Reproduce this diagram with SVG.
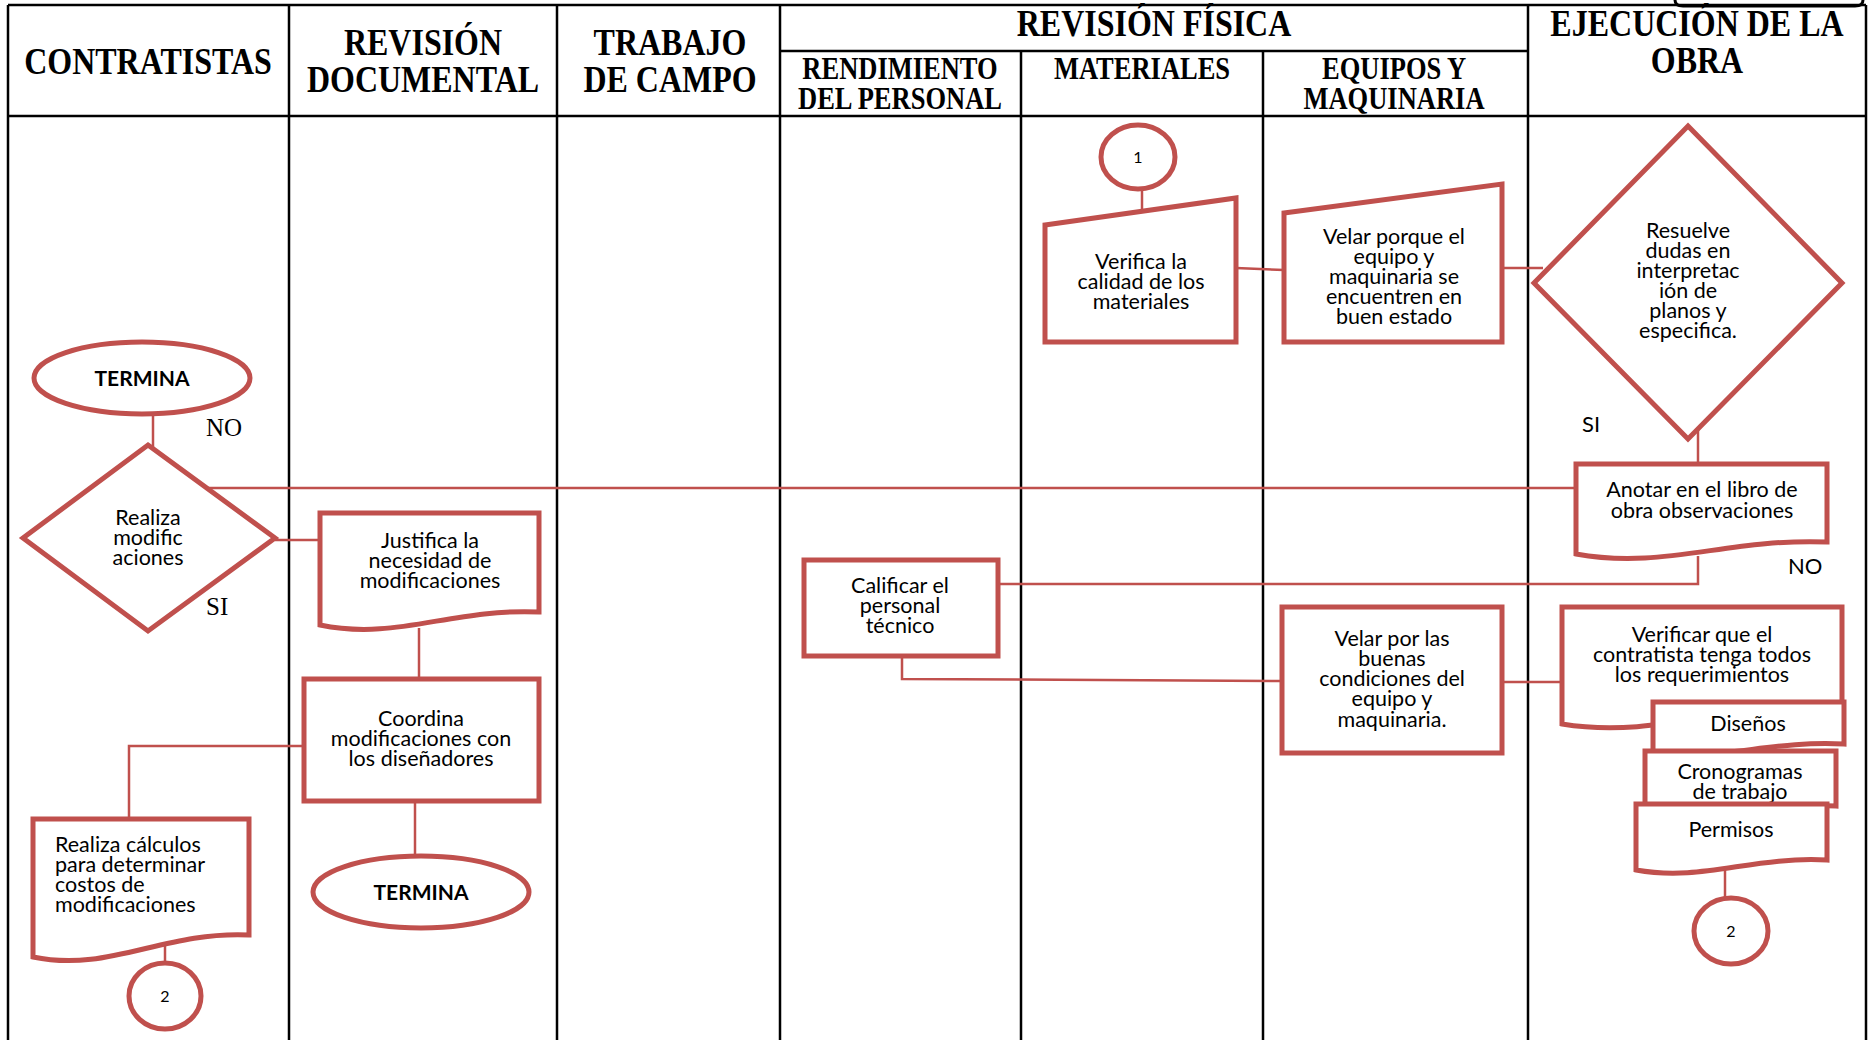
<svg xmlns="http://www.w3.org/2000/svg" width="1875" height="1040" viewBox="0 0 1875 1040">
<style>
.lane{stroke:#000;stroke-width:2.5;fill:none}
.hd{font-family:"Liberation Serif","Times New Roman",serif;font-weight:bold;font-size:32px;text-anchor:middle;fill:#000}
.sh{font-family:"Liberation Serif","Times New Roman",serif;font-weight:bold;font-size:26.5px;text-anchor:middle;fill:#000}
.nd{fill:#fff;stroke:#C0504D;stroke-width:5;stroke-linejoin:miter}
.cn{stroke:#C0504D;stroke-width:2.5;fill:none}
.t{font-family:Lato,"Liberation Sans",sans-serif;font-size:21.5px;text-anchor:middle;fill:#000}
.tl{font-family:Lato,"Liberation Sans",sans-serif;font-size:21.5px;fill:#000}
.tb{font-family:Lato,"Liberation Sans",sans-serif;font-size:21px;font-weight:bold;text-anchor:middle;fill:#000}
.num{font-family:Lato,"Liberation Sans",sans-serif;font-size:16px;text-anchor:middle;fill:#000}
.lbs{font-family:"Liberation Serif","Times New Roman",serif;font-size:25px;fill:#000}
.lbn{font-family:Lato,"Liberation Sans",sans-serif;font-size:22px;fill:#000}
</style>
<rect x="0" y="0" width="1875" height="1040" fill="#fff"/>
<g id="table">
<path d="M1675,-10 V0 Q1675,6 1683,6 H1855 Q1863,6 1863,0 V-10" stroke="#000" stroke-width="3" fill="none"/>
<line class="lane" x1="8" y1="5" x2="1866" y2="5"/>
<line class="lane" x1="780" y1="51" x2="1528" y2="51"/>
<line class="lane" x1="8" y1="116" x2="1866" y2="116"/>
<line class="lane" x1="8" y1="5" x2="8" y2="1040"/>
<line class="lane" x1="289" y1="5" x2="289" y2="1040"/>
<line class="lane" x1="557" y1="5" x2="557" y2="1040"/>
<line class="lane" x1="780" y1="5" x2="780" y2="1040"/>
<line class="lane" x1="1021" y1="51" x2="1021" y2="1040"/>
<line class="lane" x1="1263" y1="51" x2="1263" y2="1040"/>
<line class="lane" x1="1528" y1="5" x2="1528" y2="1040"/>
<line class="lane" x1="1866" y1="5" x2="1866" y2="1040"/>
<g transform="translate(148,74) scale(1,1.18)"><text class="hd" x="0" y="0">CONTRATISTAS</text></g>
<g transform="translate(423,55) scale(1,1.18)"><text class="hd" x="0" y="0">REVISIÓN</text></g>
<g transform="translate(423,92) scale(1,1.18)"><text class="hd" x="0" y="0">DOCUMENTAL</text></g>
<g transform="translate(670,55) scale(1,1.18)"><text class="hd" x="0" y="0">TRABAJO</text></g>
<g transform="translate(670,92) scale(1,1.18)"><text class="hd" x="0" y="0">DE CAMPO</text></g>
<g transform="translate(1154,36) scale(1,1.18)"><text class="hd" x="0" y="0">REVISIÓN FÍSICA</text></g>
<g transform="translate(1697,36) scale(1,1.18)"><text class="hd" x="0" y="0">EJECUCIÓN DE LA</text></g>
<g transform="translate(1697,73) scale(1,1.18)"><text class="hd" x="0" y="0">OBRA</text></g>
<g transform="translate(900,79) scale(1,1.2)"><text class="sh" x="0" y="0">RENDIMIENTO</text></g>
<g transform="translate(900,109) scale(1,1.2)"><text class="sh" x="0" y="0">DEL PERSONAL</text></g>
<g transform="translate(1142,79) scale(1,1.2)"><text class="sh" x="0" y="0">MATERIALES</text></g>
<g transform="translate(1394,79) scale(1,1.2)"><text class="sh" x="0" y="0">EQUIPOS Y</text></g>
<g transform="translate(1394,109) scale(1,1.2)"><text class="sh" x="0" y="0">MAQUINARIA</text></g>
</g>
<g id="connectors">
<line class="cn" x1="153" y1="414" x2="153" y2="447"/>
<line class="cn" x1="207" y1="488" x2="1578" y2="488"/>
<line class="cn" x1="275" y1="540" x2="320" y2="540"/>
<line class="cn" x1="419" y1="628" x2="419" y2="679"/>
<polyline class="cn" points="304,746 129,746 129,819"/>
<line class="cn" x1="415" y1="801" x2="415" y2="856"/>
<line class="cn" x1="165" y1="940" x2="165" y2="964"/>
<line class="cn" x1="1142" y1="189" x2="1142" y2="212"/>
<line class="cn" x1="1236" y1="268" x2="1284" y2="270"/>
<line class="cn" x1="1502" y1="268" x2="1543" y2="268"/>
<line class="cn" x1="1698" y1="425" x2="1698" y2="464"/>
<polyline class="cn" points="1698,556 1698,584 998,584"/>
<polyline class="cn" points="902,656 902,679 1282,681"/>
<line class="cn" x1="1502" y1="682" x2="1562" y2="682"/>
<line class="cn" x1="1725" y1="868" x2="1725" y2="899"/>
</g>
<g id="termina1">
<ellipse class="nd" cx="142" cy="378" rx="108" ry="36"/>
<text class="tb" x="142" y="386">TERMINA</text>
</g>
<g id="realiza-modificaciones">
<polygon class="nd" points="148,445 275,538 148,631 23,538"/>
<text class="t" x="148" y="525">Realiza<tspan x="148" dy="20">modific</tspan><tspan x="148" dy="20">aciones</tspan></text>
</g>
<g id="label-no1"><text class="lbs" x="206" y="436">NO</text></g>
<g id="label-si1"><text class="lbs" x="206" y="615">SI</text></g>
<g id="justifica">
<path class="nd" d="M320,513 H539 V612 C451,608 397,641 320,625 Z"/>
<text class="t" x="430" y="548">Justifica la<tspan x="430" dy="20">necesidad de</tspan><tspan x="430" dy="20">modificaciones</tspan></text>
</g>
<g id="coordina">
<rect class="nd" x="304" y="679" width="235" height="122"/>
<text class="t" x="421" y="726">Coordina<tspan x="421" dy="20">modificaciones con</tspan><tspan x="421" dy="20">los diseñadores</tspan></text>
</g>
<g id="termina2">
<ellipse class="nd" cx="421" cy="892" rx="108" ry="36"/>
<text class="tb" x="421" y="900">TERMINA</text>
</g>
<g id="realiza-calculos">
<path class="nd" d="M33,819 H249 V935 C163,931 109,973 33,957 Z"/>
<text class="tl" x="55" y="852">Realiza cálculos<tspan x="55" dy="20">para determinar</tspan><tspan x="55" dy="20">costos de</tspan><tspan x="55" dy="20">modificaciones</tspan></text>
</g>
<g id="conector2-izq">
<ellipse class="nd" cx="165" cy="996" rx="36" ry="33"/>
<text class="num" x="165" y="1002">2</text>
</g>
<g id="conector1">
<ellipse class="nd" cx="1138" cy="157" rx="37" ry="32"/>
<text class="num" x="1138" y="163">1</text>
</g>
<g id="verifica-materiales">
<polygon class="nd" points="1045,225 1236,198 1236,342 1045,342"/>
<text class="t" x="1141" y="269">Verifica la<tspan x="1141" dy="20">calidad de los</tspan><tspan x="1141" dy="20">materiales</tspan></text>
</g>
<g id="velar-equipo">
<polygon class="nd" points="1284,213 1502,184 1502,342 1284,342"/>
<text class="t" x="1394" y="244">Velar porque el<tspan x="1394" dy="20">equipo y</tspan><tspan x="1394" dy="20">maquinaria se</tspan><tspan x="1394" dy="20">encuentren en</tspan><tspan x="1394" dy="20">buen estado</tspan></text>
</g>
<g id="resuelve">
<polygon class="nd" points="1688,126 1842,283 1688,439 1534,283"/>
<text class="t" x="1688" y="238">Resuelve<tspan x="1688" dy="20">dudas en</tspan><tspan x="1688" dy="20">interpretac</tspan><tspan x="1688" dy="20">ión de</tspan><tspan x="1688" dy="20">planos y</tspan><tspan x="1688" dy="20">especifica.</tspan></text>
</g>
<g id="label-si2"><text class="lbn" x="1582" y="432">SI</text></g>
<g id="anotar">
<path class="nd" d="M1576,464 H1827 V542 C1727,538 1664,570 1576,554 Z"/>
<text class="t" x="1702" y="497">Anotar en el libro de<tspan x="1702" dy="21">obra observaciones</tspan></text>
</g>
<g id="label-no2"><text class="lbn" x="1788" y="574">NO</text></g>
<g id="calificar">
<rect class="nd" x="804" y="560" width="194" height="96"/>
<text class="t" x="900" y="593">Calificar el<tspan x="900" dy="20">personal</tspan><tspan x="900" dy="20">técnico</tspan></text>
</g>
<g id="velar-condiciones">
<rect class="nd" x="1282" y="607" width="220" height="146"/>
<text class="t" x="1392" y="646">Velar por las<tspan x="1392" dy="20">buenas</tspan><tspan x="1392" dy="20">condiciones del</tspan><tspan x="1392" dy="20">equipo y</tspan><tspan x="1392" dy="21">maquinaria.</tspan></text>
</g>
<g id="verificar-requerimientos">
<path class="nd" d="M1562,607 H1842 V704 C1730,700 1660,740 1562,724 Z"/>
<text class="t" x="1702" y="642">Verificar que el<tspan x="1702" dy="20">contratista tenga todos</tspan><tspan x="1702" dy="20">los requerimientos</tspan></text>
</g>
<g id="disenos">
<path class="nd" d="M1653,702 H1844 V744 C1768,740 1720,762 1653,752 Z"/>
<text class="t" x="1748" y="731">Diseños</text>
</g>
<g id="cronogramas">
<path class="nd" d="M1645,751 H1836 V806 C1760,802 1712,824 1645,812 Z"/>
<text class="t" x="1740" y="779">Cronogramas<tspan x="1740" dy="20">de trabajo</tspan></text>
</g>
<g id="permisos">
<path class="nd" d="M1636,804 H1827 V860 C1751,856 1703,882 1636,870 Z"/>
<text class="t" x="1731" y="837">Permisos</text>
</g>
<g id="conector2-der">
<ellipse class="nd" cx="1731" cy="931" rx="37" ry="33"/>
<text class="num" x="1731" y="937">2</text>
</g>
</svg>
